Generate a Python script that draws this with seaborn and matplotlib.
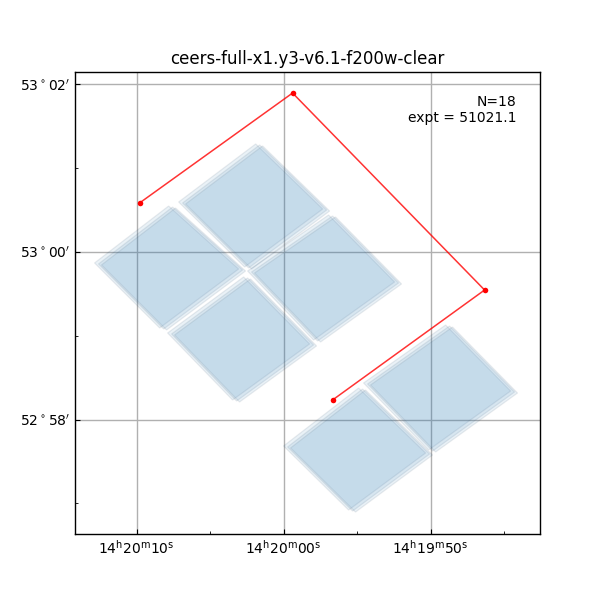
import seaborn as sns
import pandas as pd
import matplotlib.pyplot as plt
from matplotlib.ticker import FixedLocator

# RA in seconds from 14h20m00s, Dec in arcmin from 53d00m
det_names = ['A', 'B', 'C', 'D', 'E', 'F']
det_ra = [
    [12.59, 7.55, 2.79, 8.16],
    [6.87, 1.63, -2.93, 2.38],
    [2.18, -3.33, -7.82, -2.31],
    [7.62, 2.45, -2.04, 3.20],
    [-5.71, -11.29, -15.71, -10.14],
    [-0.27, -5.37, -9.93, -4.69],
]
det_dec = [
    [-0.143, 0.537, -0.215, -0.919],
    [0.585, 1.278, 0.501, -0.191],
    [-0.239, 0.430, -0.370, -1.063],
    [-0.979, -0.310, -1.110, -1.779],
    [-1.576, -0.884, -1.672, -2.376],
    [-2.328, -1.636, -2.412, -3.093],
]
# three dither positions of the 18 exposures
dither_ra = [0.27, 0.0, -0.2]
dither_dec = [0.012, 0.0, -0.012]

track_ra = [9.80, -0.61, -13.67, -3.33]
track_dec = [0.585, 1.898, -0.454, -1.767]

x_ticks = [10, 0, -10]
x_minor = [5, -5, -15]
x_labels = ['$14^{\\rm h}20^{\\rm m}10^{\\rm s}$', '$14^{\\rm h}20^{\\rm m}00^{\\rm s}$', '$14^{\\rm h}19^{\\rm m}50^{\\rm s}$']
y_ticks = [2, 0, -2]
y_minor = [1, -1, -3]
y_labels = ['$53^\\circ 02^\\prime$', '$53^\\circ 00^\\prime$', '$52^\\circ 58^\\prime$']

title = 'ceers-full-x1.y3-v6.1-f200w-clear'
note = 'N=18\nexpt = 51021.1'

sns.set_theme(style='ticks', font='DejaVu Sans', rc={
    'xtick.direction': 'in', 'ytick.direction': 'in',
    'axes.edgecolor': 'black', 'axes.linewidth': 1.0,
    'text.color': 'black', 'xtick.color': 'black', 'ytick.color': 'black',
    'axes.labelcolor': 'black', 'axes.titlesize': 12, 'font.size': 10,
    'xtick.labelsize': 10, 'ytick.labelsize': 10,
    'mathtext.fontset': 'dejavusans',
})

fig, ax = plt.subplots(figsize=(6, 6), dpi=100)
fig.subplots_adjust(left=0.125, right=0.9, bottom=0.11, top=0.88)

for ra, dec in zip(det_ra, det_dec):
    for dr, dd in zip(dither_ra, dither_dec):
        ax.fill([r + dr for r in ra], [d + dd for d in dec],
                facecolor=(0.13, 0.46, 0.70, 0.095),
                edgecolor=(0.1, 0.2, 0.3, 0.09), linewidth=0.9, zorder=3)

track = pd.DataFrame({'ra': track_ra, 'dec': track_dec})
sns.lineplot(data=track, x='ra', y='dec', sort=False, estimator=None, ax=ax,
             color='red', alpha=0.8, linewidth=1.1, zorder=4)
sns.scatterplot(data=track, x='ra', y='dec', ax=ax, color='red', s=16,
                linewidth=0, zorder=5)

ax.set_xlim(14.19, -17.44)
ax.set_ylim(-3.367, 2.149)
ax.set_xlabel('')
ax.set_ylabel('')
ax.xaxis.set_major_locator(FixedLocator(x_ticks))
ax.xaxis.set_minor_locator(FixedLocator(x_minor))
ax.yaxis.set_major_locator(FixedLocator(y_ticks))
ax.yaxis.set_minor_locator(FixedLocator(y_minor))
ax.set_xticklabels(x_labels)
ax.set_yticklabels(y_labels)
ax.tick_params(which='major', length=3.5, width=0.8)
ax.tick_params(which='minor', length=2, width=0.6)
ax.grid(True, which='major', color='#b0b0b0', linewidth=1)
ax.set_title(title)
ax.text(0.95, 0.95, note, transform=ax.transAxes, ha='right', va='top', fontsize=10)

plt.savefig('out.png', dpi=100)
